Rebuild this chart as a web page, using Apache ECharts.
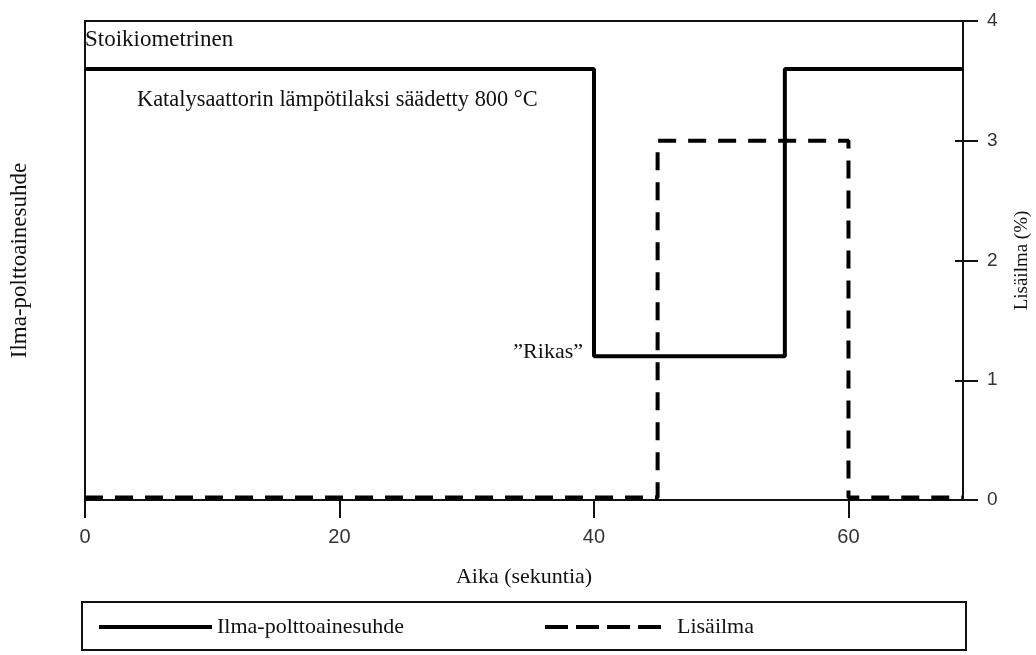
<!DOCTYPE html>
<html>
<head>
<meta charset="utf-8">
<script src="https://cdn.jsdelivr.net/npm/echarts@6/dist/echarts.min.js"></script>
<style>html,body{margin:0;padding:0;background:#fff}#c{width:1036px;height:655px}</style>
</head>
<body>
<div id="c"></div>
<script>
// Data
var ratioTimes = [0, 40, 40, 55, 55, 69];
var ratioValues = [3.6, 3.6, 1.2, 1.2, 3.6, 3.6];
var airTimes = [0, 45, 45, 60, 60, 69];
var airValues = [0.02, 0.02, 3, 3, 0.02, 0.02];
var xTicks = [0, 20, 40, 60];
var yTicks = [0, 1, 2, 3, 4];
var yInnerTicks = [0, 1, 2, 3];
var seriesNames = ['Ilma-polttoainesuhde', 'Lisäilma'];
var xName = 'Aika (sekuntia)';
var yLeftName = 'Ilma-polttoainesuhde';
var yRightName = 'Lisäilma (%)';
var labelStoich = 'Stoikiometrinen';
var labelCat = 'Katalysaattorin lämpötilaksi säädetty 800 °C';
var labelRich = '”Rikas”';

function pairs(xs, ys) { return xs.map(function (x, i) { return [x, ys[i]]; }); }

var serif = '"Liberation Serif", "DejaVu Serif", serif';
var sans = '"Liberation Sans", Arial, sans-serif';

var chart = echarts.init(document.getElementById('c'));
chart.setOption({
  animation: false,
  backgroundColor: '#fff',
  grid: { left: 85, right: 73, top: 21, bottom: 155, outerBoundsMode: 'none', containLabel: false, show: true, borderColor: '#111', borderWidth: 2, backgroundColor: 'transparent' },
  xAxis: {
    type: 'value', min: 0, max: 69,
    name: xName, nameLocation: 'middle', nameGap: 66,
    nameTextStyle: { fontFamily: serif, fontSize: 22, color: '#111' },
    axisLine: { show: true, lineStyle: { color: '#111', width: 2 } },
    axisTick: { show: true, length: 18, customValues: xTicks, lineStyle: { color: '#111', width: 2 } },
    axisLabel: { customValues: xTicks, fontFamily: sans, fontSize: 20, color: '#333', margin: 27 },
    splitLine: { show: false }
  },
  yAxis: [
    {
      type: 'value', min: 0, max: 4, position: 'left',
      name: yLeftName, nameLocation: 'middle', nameGap: 54, nameRotate: 90,
      nameTextStyle: { fontFamily: serif, fontSize: 23, color: '#111' },
      axisLine: { show: true, lineStyle: { color: '#111', width: 2 } },
      axisTick: { show: false }, axisLabel: { show: false }, splitLine: { show: false }
    },
    {
      type: 'value', min: 0, max: 4, interval: 1, position: 'right',
      name: yRightName, nameLocation: 'middle', nameGap: 50, nameRotate: 90,
      nameTextStyle: { fontFamily: serif, fontSize: 19, color: '#111' },
      axisLine: { show: true, lineStyle: { color: '#111', width: 2 } },
      axisTick: { show: true, length: 15, customValues: yTicks, lineStyle: { color: '#111', width: 2 } },
      axisLabel: { customValues: yTicks, fontFamily: sans, fontSize: 19, color: '#333', margin: 24 },
      splitLine: { show: false }
    },
    {
      type: 'value', min: 0, max: 4, position: 'right',
      axisLine: { show: false },
      axisTick: { show: true, inside: true, length: 8, customValues: yInnerTicks, lineStyle: { color: '#111', width: 2 } },
      axisLabel: { show: false }, splitLine: { show: false }
    }
  ],
  legend: [
    {
      data: [seriesNames[0]], left: 97, top: 616, padding: 0, itemWidth: 113, itemHeight: 14,
      textStyle: { fontFamily: serif, fontSize: 22, color: '#111' },
      itemStyle: { opacity: 0 },
      lineStyle: { width: 4, color: '#000', type: 'solid' }
    },
    {
      data: [seriesNames[1]], left: 543, top: 616, padding: 0, itemWidth: 117, itemHeight: 14,
      textStyle: { fontFamily: serif, fontSize: 22, color: '#111', padding: [0, 0, 0, 10] },
      itemStyle: { opacity: 0 },
      lineStyle: { width: 4, color: '#000', type: [23, 8] }
    }
  ],
  series: [
    {
      name: seriesNames[0], type: 'line', yAxisIndex: 0, data: pairs(ratioTimes, ratioValues),
      symbol: 'none', lineStyle: { color: '#000', width: 4, type: 'solid' }, itemStyle: { color: '#000' },
      z: 3
    },
    {
      name: seriesNames[1], type: 'line', yAxisIndex: 1, data: pairs(airTimes, airValues),
      symbol: 'none', lineStyle: { color: '#000', width: 4, type: [18, 12] }, itemStyle: { color: '#000' },
      z: 4
    }
  ],
  graphic: [
    { type: 'rect', shape: { x: 82, y: 602, width: 884, height: 48 }, style: { fill: 'none', stroke: '#111', lineWidth: 2 }, z: -1 },
    { type: 'text', x: 85, y: 40, style: { text: labelStoich, font: '23px ' + serif, fill: '#111', textVerticalAlign: 'middle' } },
    { type: 'text', x: 137, y: 100, style: { text: labelCat, font: '22.4px ' + serif, fill: '#111', textVerticalAlign: 'middle' } },
    { type: 'text', x: 583, y: 352, style: { text: labelRich, font: '22px ' + serif, fill: '#111', textAlign: 'right', textVerticalAlign: 'middle' } }
  ]
});
</script>
</body>
</html>
